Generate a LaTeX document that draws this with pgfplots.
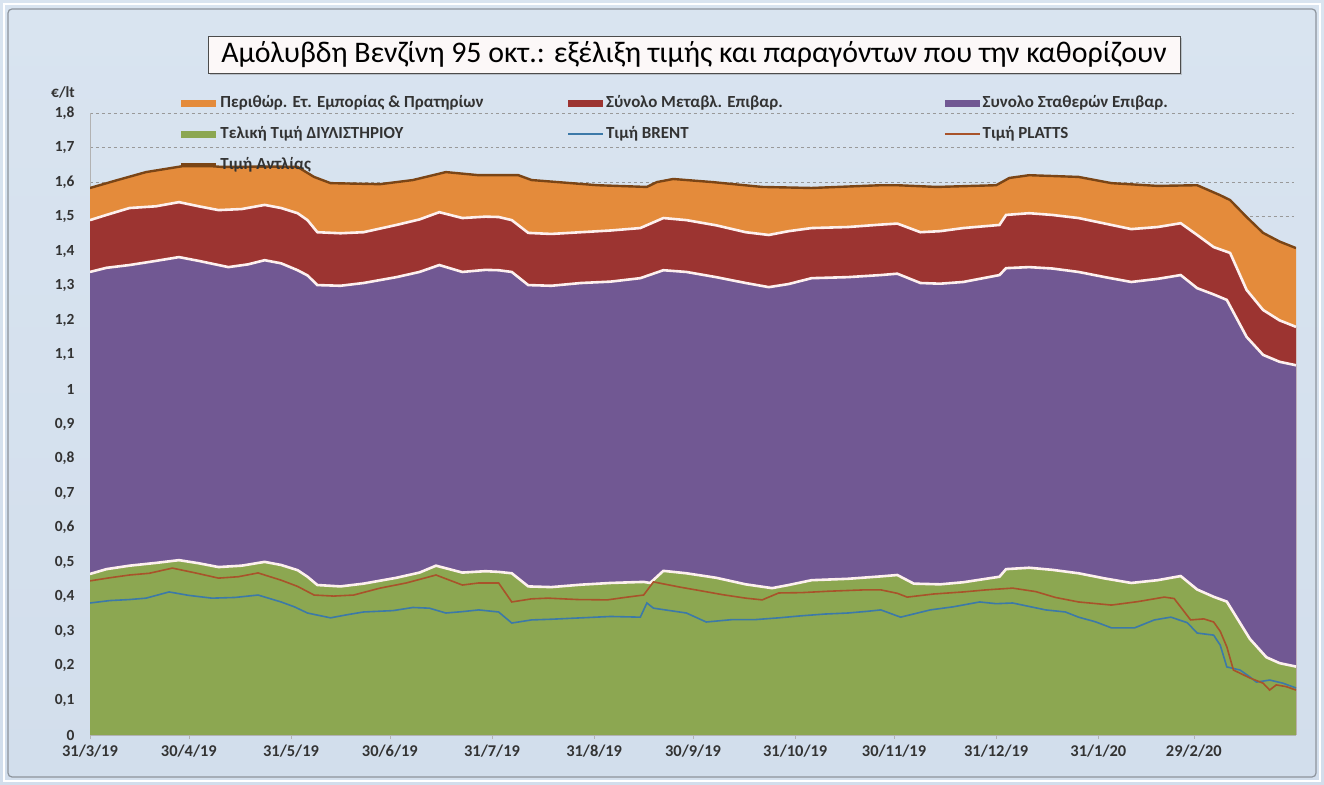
\documentclass[border=0pt]{standalone}
\usepackage{pgfplots}
\pgfplotsset{compat=1.18}
\usepackage{pgfplotstable}
\usepackage{fontspec}
\setmainfont{Carlito}
\usetikzlibrary{shadows}
\definecolor{cOr}{HTML}{E48B3B}
\definecolor{cRd}{HTML}{9C3431}
\definecolor{cPu}{HTML}{715893}
\definecolor{cGr}{HTML}{8CA751}
\definecolor{cBr}{HTML}{3C79A8}
\definecolor{cPl}{HTML}{A8532A}
\definecolor{cPump}{HTML}{7A4516}
\definecolor{cSep}{HTML}{FDF0EE}
\definecolor{bgTop}{HTML}{D9E4F0}
\definecolor{bgMid}{HTML}{FAF3F3}
\definecolor{bgBot}{HTML}{D2DEEC}

\pgfplotsset{
  arealeg/.style={legend image code/.code={\fill[##1] (0bp,-3.5bp) rectangle (35bp,3.5bp);}},
  lineleg/.style={legend image code/.code={\draw[##1] (0bp,0bp) -- (35bp,0bp);}},
  pumpleg/.style={legend image code/.code={\draw[##1, line width=4bp] (0bp,0bp) -- (35bp,0bp);}},
}

% Τιμή Αντλίας (top of the orange area)
\pgfplotstableread{
x y
0 1.583
8 1.605
17 1.629
28 1.646
37 1.646
40 1.644
55 1.645
63 1.644
68 1.615
73 1.597
88 1.594
98 1.606
108 1.629
118 1.620
130 1.620
134 1.606
154 1.591
169 1.586
172 1.600
177 1.609
189 1.600
204 1.586
219 1.583
240 1.591
245 1.591
257 1.586
275 1.591
279 1.612
285 1.620
300 1.615
310 1.597
324 1.589
336 1.591
343 1.562
346 1.548
351 1.499
356 1.453
361 1.428
366 1.409
}\tPump

% top of variable taxes
\pgfplotstableread{
x y
0 1.490
5 1.505
12 1.525
20 1.530
27 1.542
33 1.530
39 1.519
46 1.522
53 1.534
58 1.525
63 1.510
66 1.490
69 1.455
76 1.452
83 1.455
93 1.476
100 1.492
106 1.513
113 1.496
120 1.500
124 1.499
128 1.490
133 1.453
140 1.450
149 1.455
158 1.460
167 1.467
174 1.496
181 1.490
190 1.475
199 1.455
206 1.447
212 1.458
219 1.467
230 1.470
240 1.477
245 1.480
252 1.455
258 1.458
265 1.467
276 1.476
278 1.505
285 1.510
292 1.505
300 1.496
308 1.480
316 1.464
324 1.470
331 1.481
336 1.447
341 1.412
346 1.395
351 1.288
356 1.230
361 1.200
366 1.181
}\tRed

% top of fixed taxes
\pgfplotstableread{
x y
0 1.340
5 1.352
12 1.360
20 1.372
27 1.383
33 1.372
42 1.354
48 1.362
53 1.374
58 1.365
63 1.345
66 1.330
69 1.302
76 1.300
83 1.308
93 1.325
100 1.340
106 1.360
113 1.340
120 1.346
124 1.345
128 1.340
133 1.302
140 1.300
149 1.308
158 1.312
167 1.322
174 1.345
181 1.340
190 1.325
199 1.308
206 1.296
212 1.305
219 1.322
230 1.325
240 1.331
245 1.335
252 1.308
258 1.306
265 1.311
276 1.331
278 1.351
285 1.354
292 1.350
300 1.340
308 1.325
316 1.311
324 1.320
331 1.331
336 1.293
341 1.275
345 1.259
351 1.152
356 1.100
361 1.080
366 1.070
}\tPurple

% refinery price
\pgfplotstableread{
x y
0 0.466
5 0.480
12 0.490
20 0.498
27 0.506
33 0.497
39 0.486
46 0.490
53 0.501
58 0.492
63 0.477
66 0.458
69 0.434
76 0.430
83 0.438
93 0.455
100 0.470
105 0.490
113 0.470
120 0.474
124 0.472
128 0.468
133 0.430
140 0.428
149 0.435
158 0.440
168 0.443
170 0.440
174 0.475
181 0.468
190 0.455
199 0.436
207 0.425
212 0.434
219 0.448
230 0.452
240 0.459
245 0.463
250 0.438
258 0.436
265 0.442
276 0.458
278 0.480
285 0.484
292 0.478
300 0.468
308 0.453
316 0.440
324 0.448
331 0.460
336 0.421
341 0.400
345 0.386
352 0.278
357 0.225
361 0.208
366 0.198
}\tGreen

% Τιμή BRENT
\pgfplotstableread{
x y
0 0.382
6 0.389
12 0.392
17 0.396
24 0.414
30 0.404
37 0.396
44 0.398
51 0.405
58 0.385
62 0.371
66 0.353
73 0.339
78 0.348
83 0.356
92 0.360
98 0.369
103 0.367
108 0.353
113 0.357
118 0.362
124 0.356
128 0.324
134 0.333
140 0.335
149 0.339
158 0.343
167 0.341
169 0.382
171 0.367
176 0.360
181 0.353
187 0.327
195 0.334
202 0.334
209 0.339
216 0.345
223 0.350
230 0.353
236 0.358
240 0.362
246 0.341
255 0.362
262 0.371
270 0.385
275 0.380
280 0.382
285 0.372
290 0.362
296 0.356
300 0.341
305 0.328
310 0.310
317 0.310
323 0.333
328 0.341
333 0.325
336 0.295
341 0.289
343 0.260
345 0.197
349 0.188
352 0.168
354 0.153
358 0.159
362 0.150
366 0.136
}\tBrent

% Τιμή PLATTS
\pgfplotstableread{
x y
0 0.446
6 0.455
12 0.463
18 0.468
25 0.483
32 0.469
39 0.454
45 0.458
51 0.469
58 0.448
63 0.430
68 0.405
74 0.402
80 0.405
88 0.425
96 0.440
105 0.463
113 0.434
118 0.440
124 0.440
128 0.385
134 0.394
139 0.396
148 0.392
157 0.391
163 0.399
168 0.405
171 0.443
179 0.428
185 0.418
192 0.406
199 0.396
204 0.391
209 0.411
216 0.412
224 0.416
235 0.420
240 0.420
245 0.410
248 0.399
256 0.408
265 0.414
272 0.420
280 0.425
287 0.415
293 0.398
300 0.385
310 0.376
318 0.386
326 0.399
329 0.395
334 0.333
338 0.336
341 0.327
343 0.300
345 0.255
347 0.188
352 0.165
356 0.150
358 0.130
360 0.145
363 0.140
366 0.130
}\tPlatts

\begin{document}
\begin{tikzpicture}
% axis south-west corner is the origin; the image spans (-90,-50) to (1234,735) in bp
\useasboundingbox (-90bp,-50bp) rectangle (1234bp,735bp);
\shade[top color=bgTop, middle color=bgMid, bottom color=bgBot] (-90bp,-50bp) rectangle (1234bp,735bp);
\draw[color=white, line width=2bp] (-86bp,-46bp) rectangle (1230bp,731bp);
\draw[color=black!35!bgTop, line width=1.2bp, rounded corners=4bp] (-82bp,-42bp) rectangle (1226bp,726bp);

\begin{axis}[
  at={(0,0)}, anchor=south west,
  scale only axis, width=1206bp, height=622bp,
  xmin=0, xmax=366, ymin=0, ymax=1.8,
  axis x line*=bottom, axis y line*=left,
  axis line style={black!30},
  xtick={0,30,61,91,122,153,183,214,244,275,306,335},
  xticklabels={31/3/19,30/4/19,31/5/19,30/6/19,31/7/19,31/8/19,30/9/19,31/10/19,30/11/19,31/12/19,31/1/20,29/2/20},
  ytick={0,0.1,0.2,0.3,0.4,0.5,0.6,0.7,0.8,0.9,1,1.1,1.2,1.3,1.4,1.5,1.6,1.7,1.8},
  yticklabels={0,{0,1},{0,2},{0,3},{0,4},{0,5},{0,6},{0,7},{0,8},{0,9},1,{1,1},{1,2},{1,3},{1,4},{1,5},{1,6},{1,7},{1,8}},
  tick align=outside, major tick length=4bp,
  xtick style={black!30},
  ytick style={draw=none},
  yticklabel style={xshift=-8bp, font=\fontsize{15.5}{16}\selectfont\bfseries},
  xticklabel style={yshift=-2bp, font=\fontsize{16.5}{17}\selectfont\bfseries},
  ticklabel style={text=black!80},
  ymajorgrids, grid style={dashed, black!40, line width=0.7bp},
  no markers,
  legend columns=3,
  legend cell align=left,
  legend style={at={(0.074,1.032)}, anchor=north west, draw=none, fill=none,
    inner sep=0pt, row sep=11bp,
    nodes={text height=12bp, text depth=4bp, inner sep=2bp},
    font=\fontsize{17}{18}\selectfont\bfseries, text=black!80},
]
\addplot[fill=cOr, draw=none, arealeg] table {\tPump} \closedcycle;
\addlegendentry{\makebox[345bp][l]{Περιθώρ. Ετ. Εμπορίας \& Πρατηρίων}}
\addplot[fill=cRd, draw=none, arealeg] table {\tRed} \closedcycle;
\addlegendentry{\makebox[336bp][l]{Σύνολο Μεταβλ. Επιβαρ.}}
\addplot[fill=cPu, draw=none, arealeg] table {\tPurple} \closedcycle;
\addlegendentry{Συνολο Σταθερών Επιβαρ.}
\addplot[fill=cGr, draw=none, arealeg] table {\tGreen} \closedcycle;
\addlegendentry{\makebox[345bp][l]{Τελική Τιμή ΔΙΥΛΙΣΤΗΡΙΟΥ}}

\addplot[cSep, line width=2.6bp, forget plot] table {\tRed};
\addplot[cSep, line width=2.6bp, forget plot] table {\tPurple};
\addplot[cSep, line width=2.6bp, forget plot] table {\tGreen};

\addplot[cBr, line width=1.6bp, lineleg] table {\tBrent};
\addlegendentry{\makebox[336bp][l]{Τιμή BRENT}}
\addplot[cPl, line width=1.6bp, lineleg] table {\tPlatts};
\addlegendentry{Τιμή PLATTS}
\addplot[cPump, line width=2.4bp, pumpleg] table {\tPump};
\addlegendentry{Τιμή Αντλίας}
\end{axis}

\node[font=\fontsize{15.5}{16}\selectfont\bfseries, text=black!80] at (-27bp,643bp) {€/lt};

\node[draw=black!70, fill=bgMid!60!white, line width=1bp, minimum width=972bp, minimum height=37bp,
      inner sep=0pt, font=\fontsize{30}{32}\selectfont,
      drop shadow={opacity=0.35, shadow xshift=2bp, shadow yshift=-2bp}]
  at (604bp,680bp) {Αμόλυβδη Βενζίνη 95 οκτ.: εξέλιξη τιμής και παραγόντων που την καθορίζουν};
\end{tikzpicture}
\end{document}
